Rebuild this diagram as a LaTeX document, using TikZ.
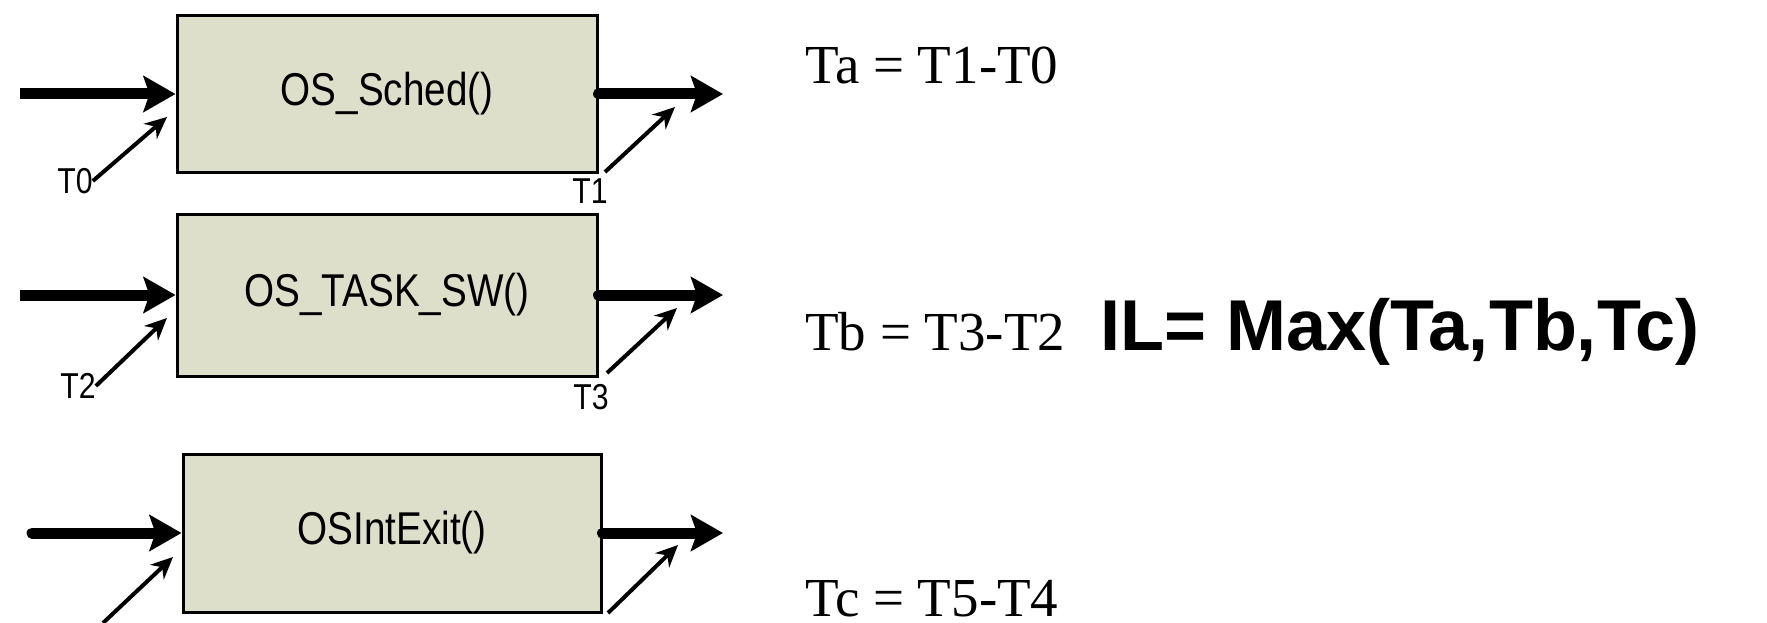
\documentclass[tikz,border=0pt]{standalone}
\usepackage{fontspec}
\usepackage{graphicx}
\setmainfont{Liberation Serif}
\newfontfamily\arialfont{Liberation Sans}
\usetikzlibrary{arrows.meta}
\definecolor{boxfill}{RGB}{221,223,203}
\newcommand{\condtext}[1]{\scalebox{0.84}[1]{#1}}
\tikzset{
  fnbox/.style={draw=black, fill=boxfill, line width=3pt, inner sep=0pt,
    font=\arialfont\fontsize{46}{48}\selectfont},
  bigarrow/.style={line width=11pt, -{Stealth[length=32pt,width=36pt,inset=6pt]}},
  diagarrow/.style={line width=4pt, -{Stealth[length=22pt,width=20pt]}},
  tlabel/.style={inner sep=0pt, font=\arialfont\fontsize{36}{38}\selectfont},
  formula/.style={inner sep=0pt, anchor=base west, font=\fontsize{55}{58}\selectfont},
  bigformula/.style={inner sep=0pt, anchor=base west, font=\arialfont\bfseries\fontsize{72}{76}\selectfont}
}
\begin{document}
\begin{tikzpicture}[x=1pt,y=-1pt]
\useasboundingbox (0,0) rectangle (1767,623);
\clip (0,0) rectangle (1767,623);

% boxes
\node[fnbox, minimum width=420pt, minimum height=156pt] (b1) at (387,94) {\condtext{OS\_Sched()}};
\node[fnbox, minimum width=420pt, minimum height=162pt] (b2) at (387,295) {\condtext{OS\_TASK\_SW()}};
\node[fnbox, minimum width=418pt, minimum height=158pt] (b3) at (392,533) {\condtext{OSIntExit()}};

% incoming / outgoing arrows
\coordinate (in1) at (20,94);
\coordinate (in2) at (20,295);
\coordinate (in3) at (32,533);
\coordinate (out1) at (723,94);
\coordinate (out2) at (723,295);
\coordinate (out3) at (723,533);
\draw[bigarrow] (in1) -- (b1.west);
\draw[bigarrow] (in2) -- (b2.west);
\draw[bigarrow, line cap=round] (in3) -- (b3.west);
\draw[bigarrow, line cap=round] (b1.east) -- (out1);
\draw[bigarrow, line cap=round] (b2.east) -- (out2);
\draw[bigarrow, line cap=round] (b3.east) -- (out3);

% time labels
\node[tlabel] (t0) at (75,181) {\condtext{T0}};
\node[tlabel] (t1) at (590,191) {\condtext{T1}};
\node[tlabel] (t2) at (78,386) {\condtext{T2}};
\node[tlabel] (t3) at (591,397) {\condtext{T3}};
\node[tlabel] (t4) at (76,638) {\condtext{T4}};

% diagonal time-point arrows
\coordinate (d0) at (167,117);
\coordinate (d1) at (675,107);
\coordinate (d2) at (167,318);
\coordinate (d3) at (677,308);
\coordinate (d4) at (173,557);
\coordinate (d5) at (678,545);
\coordinate (s1) at (605,172);
\coordinate (s3) at (607,373);
\coordinate (s4) at (103,623);
\coordinate (s5) at (608,613);
\draw[diagarrow] (t0.east) -- (d0);
\draw[diagarrow] (s1) -- (d1);
\draw[diagarrow] (t2.east) -- (d2);
\draw[diagarrow] (s3) -- (d3);
\draw[diagarrow] (s4) -- (d4);
\draw[diagarrow] (s5) -- (d5);

% formulas
\node[formula] (ta) at (805,84) {Ta = T1-T0};
\node[formula] (tb) at (805,350) {Tb = T3-T2};
\node[bigformula] (il) at (1100,350) {IL= Max(Ta,Tb,Tc)};
\node[formula] (tc) at (805,616) {Tc = T5-T4};
\end{tikzpicture}
\end{document}
